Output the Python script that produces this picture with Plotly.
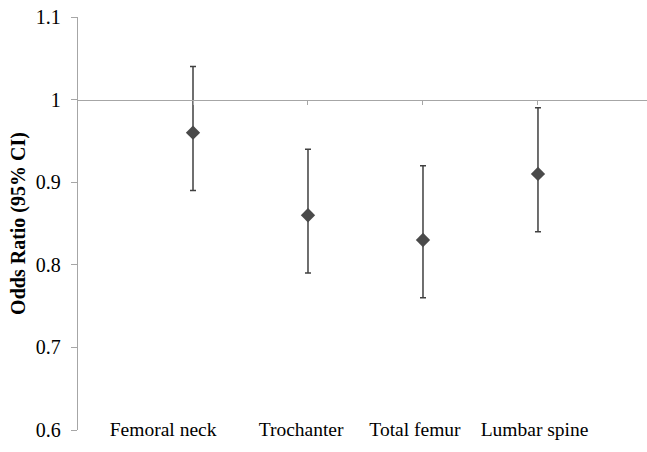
import plotly.graph_objects as go

categories = ["Femoral neck", "Trochanter", "Total femur", "Lumbar spine"]
odds_ratio = [0.96, 0.86, 0.83, 0.91]
ci_low = [0.89, 0.79, 0.76, 0.84]
ci_high = [1.04, 0.94, 0.92, 0.99]
y_ticks = [0.6, 0.7, 0.8, 0.9, 1.0, 1.1]
y_tick_labels = ["0.6", "0.7", "0.8", "0.9", "1", "1.1"]

x_pos = [i + 1 for i in range(len(categories))]
label_pos = [0.74, 1.94, 2.93, 3.97]
x_range = [0, 4.948]

font_family = "Liberation Serif, Times New Roman, serif"
axis_color = "#a6a6a6"

fig = go.Figure()
fig.add_trace(go.Scatter(
    x=x_pos, y=odds_ratio, mode="markers",
    marker=dict(symbol="diamond", size=11, color="#4a4a4a"),
    error_y=dict(type="data", symmetric=False,
                 array=[h - m for h, m in zip(ci_high, odds_ratio)],
                 arrayminus=[m - l for m, l in zip(odds_ratio, ci_low)],
                 color="#404040", thickness=1.5, width=3),
    showlegend=False, hoverinfo="skip",
))
# invisible helper trace so the label axis is drawn
fig.add_trace(go.Scatter(
    x=label_pos, y=odds_ratio, xaxis="x2", mode="markers",
    marker=dict(size=1, opacity=0), showlegend=False, hoverinfo="skip",
))

fig.update_layout(
    width=647, height=452,
    margin=dict(l=78, r=0, t=17, b=22, autoexpand=False),
    paper_bgcolor="white", plot_bgcolor="white",
    font=dict(family=font_family, size=19, color="black"),
    xaxis=dict(range=x_range, anchor="free", position=0.8,
               showline=True, linecolor=axis_color, linewidth=1.3,
               tickvals=x_pos, showticklabels=False,
               ticks="outside", ticklen=4, tickcolor=axis_color,
               showgrid=False, zeroline=False, automargin=False),
    xaxis2=dict(range=x_range, overlaying="x", anchor="free", position=0.036,
                side="bottom", showline=False, ticks="", tickvals=label_pos,
                ticktext=categories, showgrid=False, zeroline=False,
                automargin=False,
                tickfont=dict(family=font_family, size=19.5, color="black")),
    yaxis=dict(range=[0.6, 1.1], tickvals=y_ticks, ticktext=y_tick_labels,
               showline=True, linecolor=axis_color, linewidth=1.3,
               ticks="outside", ticklen=6, tickcolor=axis_color,
               ticklabelstandoff=6, ticklabeloverflow="allow",
               tickfont=dict(family=font_family, size=20, color="black"),
               showgrid=False, zeroline=False, automargin=False,
               title=dict(text="<b>Odds Ratio (95% CI)</b>",
                          font=dict(family=font_family, size=20, color="black"),
                          standoff=4)),
)

fig.write_html("out.html", config={"displayModeBar": False},
               post_script="document.body.style.margin='0';")
